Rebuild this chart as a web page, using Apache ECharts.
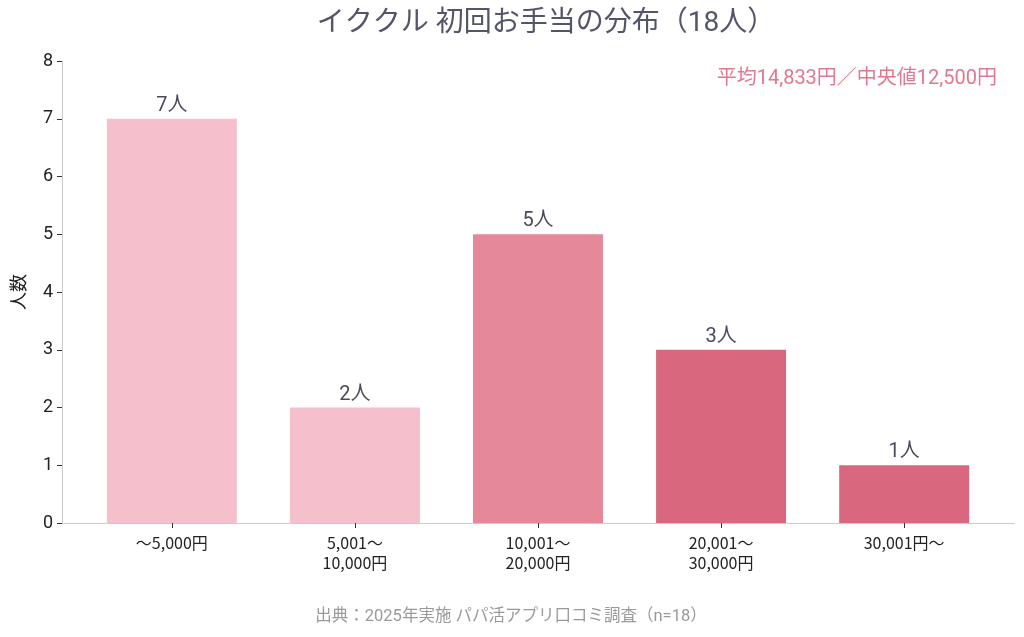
<!DOCTYPE html>
<html>
<head>
<meta charset="utf-8">
<script src="https://cdn.jsdelivr.net/npm/echarts@6/dist/echarts.min.js"></script>
<style>
  html, body { margin: 0; padding: 0; background: #fff; }
  #chart { width: 1024px; height: 637px; }
</style>
</head>
<body>
<div id="chart"></div>
<script>
  // データ
  const categories = ['～5,000円', '5,001～\n10,000円', '10,001～\n20,000円', '20,001～\n30,000円', '30,001円～'];
  const counts = [7, 2, 5, 3, 1];
  const barColors = ['#f5bfcb', '#f5bfcb', '#e5889a', '#d9687f', '#d9687f'];
  const yTicks = [0, 1, 2, 3, 4, 5, 6, 7, 8];

  const font = 'Roboto, "Noto Sans CJK JP", sans-serif';
  const cjk = '"Noto Sans CJK JP", "Noto Sans", sans-serif';
  let chart = echarts.init(document.getElementById('chart'));

  chart.setOption({
    animation: false,
    textStyle: { fontFamily: font },
    title: [
      {
        text: 'イククル 初回お手当の分布（18人）',
        left: 541, top: 5, textAlign: 'center',
        textStyle: { fontSize: 28, fontWeight: 'normal', color: '#55556a', fontFamily: font }
      },
      {
        text: '平均14,833円／中央値12,500円',
        right: 22, top: 64,
        textStyle: { fontSize: 20, fontWeight: 'normal', color: '#e07890', fontFamily: font }
      },
      {
        text: '出典：2025年実施 パパ活アプリ口コミ調査（n=18）',
        left: 506, top: 604, textAlign: 'center',
        textStyle: { fontSize: 16.5, fontWeight: 'normal', color: '#9a9a9a', fontFamily: font }
      }
    ],
    grid: { left: 62, right: 10, top: 61, bottom: 114 },
    xAxis: {
      type: 'value',
      min: -0.6,
      max: 4.6,
      splitLine: { show: false },
      axisLine: { show: true, lineStyle: { color: '#cccccc', width: 1 } },
      axisTick: { show: true, length: 5, customValues: [0, 1, 2, 3, 4], lineStyle: { color: '#333' } },
      axisLabel: {
        customValues: [0, 1, 2, 3, 4],
        formatter: function (v) { return categories[Math.round(v)]; },
        fontSize: 16, color: '#222', lineHeight: 20, margin: 10, fontFamily: cjk
      }
    },
    yAxis: {
      type: 'value',
      min: 0, max: 8, interval: 1,
      name: '人数',
      nameLocation: 'middle',
      nameGap: 35,
      nameRotate: 90,
      nameTextStyle: { fontSize: 18, color: '#222', fontFamily: cjk },
      splitLine: { show: false },
      axisLine: { show: true, onZero: false, lineStyle: { color: '#cccccc' } },
      axisTick: { show: true, length: 5, lineStyle: { color: '#333' } },
      axisLabel: {
        fontSize: 18, color: '#222', margin: 9, fontFamily: font,
        formatter: function (v) { return yTicks.indexOf(v) >= 0 ? String(v) : ''; }
      }
    },
    series: [{
      type: 'bar',
      barWidth: 130,
      data: counts.map(function (v, i) {
        return { value: [i, v], itemStyle: { color: barColors[i] } };
      }),
      label: {
        show: true, position: 'top', distance: 3,
        formatter: function (p) { return p.value[1] + '人'; },
        fontSize: 20, color: '#4a4a5a', fontFamily: font
      }
    }]
  });

  window.addEventListener('resize', function () {
    chart.resize()
  })
</script>
</body>
</html>
